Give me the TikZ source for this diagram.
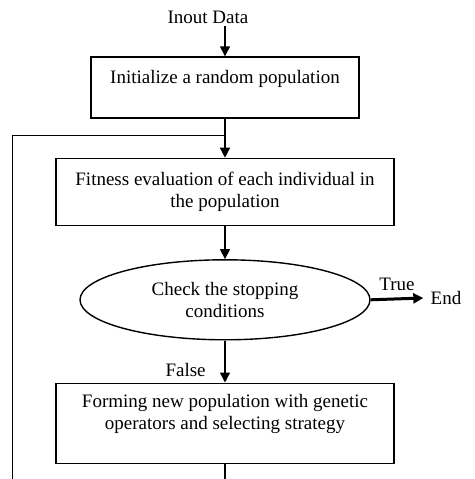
\documentclass[tikz,border=0pt]{standalone}
\usepackage{fontspec}
\setmainfont{Liberation Serif}
\usetikzlibrary{positioning, arrows.meta, shapes.geometric}

\begin{document}
\begin{tikzpicture}[x=0.5pt, y=0.5pt, >={Triangle[length=5pt, width=5pt]}, line width=0.7pt,
  font=\fontsize{9.5}{11}\selectfont,
  rect/.style={draw, minimum width=134pt, minimum height=30.5pt, align=center, inner sep=2pt},
  ellip/.style={draw, ellipse, minimum width=145pt, minimum height=40pt, align=center, inner sep=1pt}]

    \useasboundingbox (0,0) rectangle (475,479);

    % Draw nodes
    \node (init) [rect] at (225,391.5) {Initialize a random population\\ \mbox{}};
    \node (fit) [rect, minimum width=169pt, minimum height=33.5pt, below=19.5pt of init] {Fitness evaluation of each individual in\\the population};
    \node (check) [ellip, below=16.5pt of fit] {Check the stopping\\conditions};
    \node (form) [rect, minimum width=169pt, minimum height=40pt, below=21pt of check] {Forming new population with genetic\\operators and selecting strategy\\ \mbox{}};
    \node (input) [inner sep=1pt] at (208,462) {Inout Data};
    \node (end) at (446,181) {End};

    % Loop back line
    \coordinate (loop) at (13,344);
    \coordinate (loopbot) at (13,0);
    \coordinate (formbot) at (form.south |- loopbot);

    % Draw arrows
    \draw[->] (input.south -| init.north) -- (init.north);
    \draw[->] (init.south) -- (fit.north);
    \draw[->] (fit.south) -- (check.north);
    \draw[->] (check.south) -- (form.north) node (lblfalse) [pos=0.7, left=6pt] {False};
    \draw[->, line width=1.5pt] (check.east) -- (end.west) node (lbltrue) [midway, above] {True};
    \draw (form.south) -- (formbot);
    \draw[line width=0.5pt] (loopbot) -- (loop) -- (loop -| init.south);

\end{tikzpicture}
\end{document}
